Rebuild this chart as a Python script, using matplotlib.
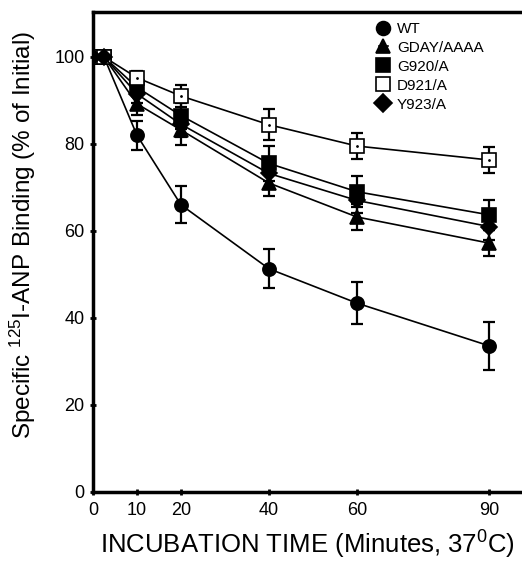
import matplotlib.pyplot as plt

plt.rcParams["font.family"] = ["Liberation Sans", "DejaVu Sans"]
plt.rcParams["mathtext.fontset"] = "custom"
plt.rcParams["mathtext.rm"] = "Liberation Sans"
plt.rcParams["mathtext.default"] = "regular"

# time points (minutes)
time = [0, 2.5, 10, 20, 40, 60, 90]

wt = [100, 100, 82, 66, 51.3, 43.4, 33.6]
wt_err = [0, 0, 3.3, 4.3, 4.5, 4.8, 5.5]

gday = [100, 100, 89.2, 83.2, 71, 63.2, 57.2]
gday_err = [0, 0, 2.5, 3.5, 3, 3, 3]

g920 = [100, 100, 93, 86.5, 75.5, 69, 63.7]
g920_err = [0, 0, 2, 3, 4, 3.5, 3.5]

d921 = [100, 100, 95.2, 91, 84.4, 79.5, 76.3]
d921_err = [0, 0, 1.5, 2.5, 3.5, 3, 3]

y923 = [100, 100, 91.5, 84.5, 73.2, 67, 61]
y923_err = [0, 0, 2, 3, 3, 3, 3]

xticks = [0, 10, 20, 40, 60, 90]
yticks = [0, 20, 40, 60, 80, 100]

fig = plt.figure(figsize=(5.22, 5.61), dpi=100)
ax = fig.add_axes([0.178, 0.123, 0.822, 0.8556])

series = [
    ("WT", wt, wt_err, "o", "black"),
    ("GDAY/AAAA", gday, gday_err, "^", "black"),
    ("G920/A", g920, g920_err, "s", "black"),
    ("D921/A", d921, d921_err, "s", "white"),
    ("Y923/A", y923, y923_err, "D", "black"),
]

handles = []
for name, vals, err, mk, fc in series:
    ms = 9.5 if mk != "D" else 8.5
    ax.errorbar(time, vals, yerr=err, fmt="none", ecolor="black",
                elinewidth=1.6, capsize=4, capthick=1.6, zorder=2)
    (h,) = ax.plot(time, vals, color="black", linewidth=1.2, marker=mk,
                   markersize=ms, markerfacecolor=fc, markeredgecolor="black",
                   markeredgewidth=1.2, zorder=3, label=name)
    if fc == "white":
        ax.plot(time, vals, linestyle="none", marker=".", markersize=2,
                color="black", zorder=4)
    handles.append(h)

leg = ax.legend(handles=handles, loc="upper left", frameon=False,
                fontsize=11, handlelength=0.6, handletextpad=0.6,
                labelspacing=0.32, borderaxespad=0, borderpad=0.4,
                bbox_to_anchor=(0.652, 0.992), markerscale=1.05)

ax.set_xlim(0, 97.5)
ax.set_ylim(0, 110.3)
ax.set_xticks(xticks)
ax.set_yticks(yticks)
ax.tick_params(direction="inout", length=5, width=2, labelsize=13)
ax.tick_params(axis="x", pad=5)

for side in ["left", "bottom", "top"]:
    ax.spines[side].set_linewidth(2.5)
ax.spines["right"].set_visible(False)

ax.set_xlabel("INCUBATION TIME (Minutes, 37$^{0}$C)", fontsize=18.5,
              labelpad=7)
ax.set_ylabel("Specific $^{125}$I-ANP Binding (% of Initial)", fontsize=17.5)
ax.yaxis.set_label_coords(-0.128, 0.535)

fig.savefig("out.png", dpi=100)
